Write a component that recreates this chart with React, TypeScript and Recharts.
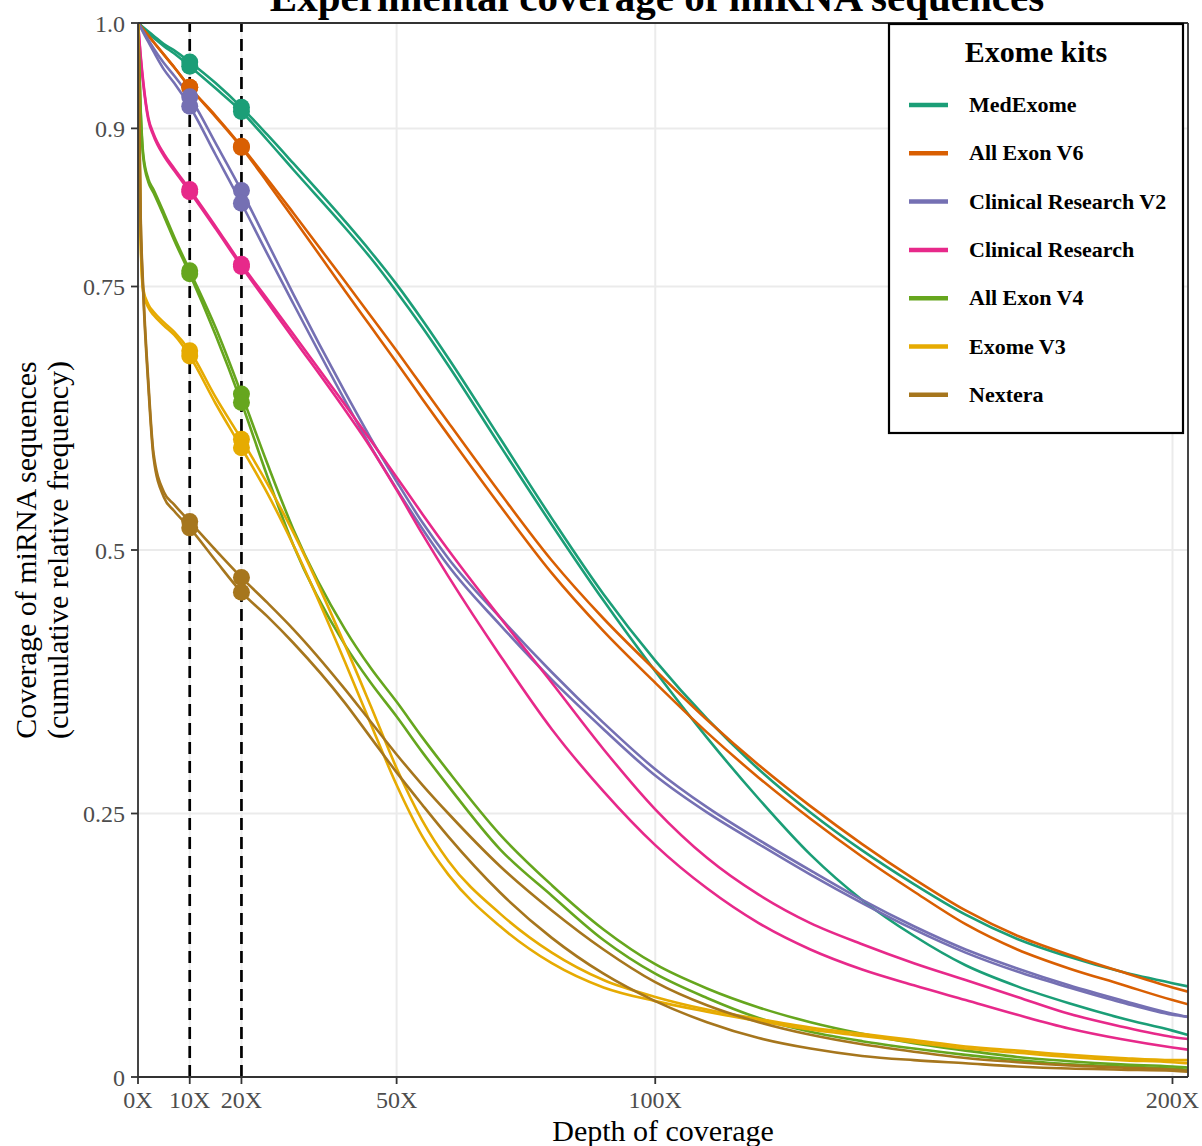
import React from 'react';
import { LineChart, Line, XAxis, YAxis, CartesianGrid, ReferenceLine } from 'recharts';

const SERIF = '"Liberation Serif", "DejaVu Serif", serif';

const depth = [0, 0.5, 1, 2, 3, 5, 7, 10, 15, 20, 25, 30, 40, 45, 50, 55, 60, 70, 80, 90, 100, 110, 120, 130, 140, 150, 160, 170, 180, 190, 200, 203];

const kitNames = ['MedExome', 'All Exon V6', 'Clinical Research V2', 'Clinical Research', 'All Exon V4', 'Exome V3', 'Nextera'];
const kitColors = ['#1B9E77', '#D95F02', '#7570B3', '#E7298A', '#66A61E', '#E6AB02', '#A6761D'];

const xTicks = [0, 10, 20, 50, 100, 200];
const yTicks = [0, 0.25, 0.5, 0.75, 0.9, 1.0];
const yTickLabels = ['0', '0.25', '0.5', '0.75', '0.9', '1.0'];
const markedDepths = [10, 20];

const medExomeA = [1.0, 0.998, 0.996, 0.992, 0.988, 0.980, 0.974, 0.963, 0.943, 0.920, 0.894, 0.867, 0.812, 0.783, 0.752, 0.718, 0.682, 0.606, 0.530, 0.458, 0.395, 0.340, 0.292, 0.251, 0.215, 0.183, 0.154, 0.131, 0.114, 0.100, 0.089, 0.086];
const medExomeB = [1.0, 0.998, 0.995, 0.990, 0.986, 0.978, 0.971, 0.959, 0.938, 0.916, 0.889, 0.861, 0.806, 0.777, 0.745, 0.711, 0.675, 0.599, 0.524, 0.452, 0.385, 0.322, 0.264, 0.211, 0.168, 0.134, 0.106, 0.086, 0.070, 0.056, 0.044, 0.040];
const allExonV6A = [1.0, 0.997, 0.994, 0.988, 0.982, 0.970, 0.958, 0.939, 0.912, 0.883, 0.852, 0.820, 0.755, 0.722, 0.689, 0.655, 0.621, 0.554, 0.490, 0.435, 0.386, 0.339, 0.296, 0.257, 0.221, 0.188, 0.158, 0.134, 0.116, 0.100, 0.085, 0.081];
const allExonV6B = [1.0, 0.997, 0.994, 0.988, 0.982, 0.970, 0.958, 0.939, 0.911, 0.882, 0.849, 0.815, 0.746, 0.712, 0.678, 0.643, 0.609, 0.542, 0.478, 0.423, 0.374, 0.327, 0.284, 0.245, 0.209, 0.176, 0.145, 0.121, 0.103, 0.088, 0.073, 0.069];
const clinicalV2A = [1.0, 0.996, 0.992, 0.984, 0.976, 0.962, 0.950, 0.930, 0.886, 0.841, 0.792, 0.743, 0.650, 0.606, 0.565, 0.526, 0.492, 0.436, 0.384, 0.336, 0.292, 0.256, 0.225, 0.196, 0.168, 0.143, 0.121, 0.103, 0.087, 0.073, 0.060, 0.057];
const clinicalV2B = [1.0, 0.996, 0.991, 0.982, 0.973, 0.956, 0.943, 0.921, 0.875, 0.829, 0.781, 0.734, 0.642, 0.598, 0.558, 0.520, 0.485, 0.429, 0.377, 0.330, 0.286, 0.251, 0.221, 0.192, 0.165, 0.140, 0.118, 0.100, 0.085, 0.071, 0.059, 0.057];
const clinicalA = [1.0, 0.970, 0.945, 0.910, 0.895, 0.876, 0.862, 0.842, 0.807, 0.771, 0.738, 0.705, 0.638, 0.604, 0.569, 0.534, 0.500, 0.436, 0.374, 0.311, 0.254, 0.208, 0.173, 0.146, 0.126, 0.108, 0.092, 0.076, 0.060, 0.048, 0.038, 0.036];
const clinicalB = [1.0, 0.968, 0.943, 0.908, 0.893, 0.874, 0.860, 0.840, 0.805, 0.769, 0.735, 0.701, 0.633, 0.597, 0.557, 0.515, 0.475, 0.400, 0.330, 0.271, 0.220, 0.179, 0.146, 0.121, 0.102, 0.087, 0.073, 0.059, 0.046, 0.036, 0.028, 0.026];
const allExonV4A = [1.0, 0.920, 0.876, 0.852, 0.842, 0.820, 0.797, 0.765, 0.711, 0.648, 0.582, 0.520, 0.425, 0.388, 0.356, 0.322, 0.290, 0.230, 0.182, 0.140, 0.107, 0.084, 0.066, 0.052, 0.041, 0.032, 0.025, 0.019, 0.015, 0.012, 0.010, 0.009];
const allExonV4B = [1.0, 0.918, 0.873, 0.849, 0.839, 0.817, 0.794, 0.762, 0.704, 0.640, 0.570, 0.505, 0.410, 0.374, 0.342, 0.308, 0.276, 0.216, 0.172, 0.130, 0.098, 0.075, 0.056, 0.043, 0.034, 0.027, 0.021, 0.016, 0.012, 0.010, 0.008, 0.007];
const exomeV3A = [1.0, 0.800, 0.748, 0.733, 0.726, 0.716, 0.707, 0.689, 0.645, 0.605, 0.563, 0.517, 0.410, 0.352, 0.293, 0.243, 0.205, 0.155, 0.118, 0.092, 0.076, 0.064, 0.055, 0.047, 0.041, 0.035, 0.029, 0.025, 0.021, 0.018, 0.016, 0.016];
const exomeV3B = [1.0, 0.795, 0.745, 0.730, 0.723, 0.713, 0.704, 0.684, 0.639, 0.597, 0.554, 0.505, 0.394, 0.335, 0.277, 0.228, 0.192, 0.143, 0.108, 0.085, 0.072, 0.062, 0.053, 0.045, 0.039, 0.033, 0.027, 0.023, 0.019, 0.016, 0.014, 0.013];
const nexteraA = [1.0, 0.820, 0.750, 0.660, 0.592, 0.555, 0.543, 0.527, 0.500, 0.474, 0.450, 0.425, 0.368, 0.337, 0.306, 0.277, 0.250, 0.200, 0.158, 0.121, 0.090, 0.068, 0.052, 0.040, 0.031, 0.024, 0.018, 0.014, 0.011, 0.009, 0.007, 0.006];
const nexteraB = [1.0, 0.815, 0.745, 0.655, 0.588, 0.550, 0.537, 0.521, 0.490, 0.460, 0.437, 0.412, 0.355, 0.322, 0.289, 0.258, 0.228, 0.175, 0.132, 0.098, 0.072, 0.052, 0.037, 0.027, 0.020, 0.016, 0.013, 0.010, 0.008, 0.007, 0.006, 0.005];

const seriesList = [
  { key: 'medExomeA', kit: 0, values: medExomeA },
  { key: 'medExomeB', kit: 0, values: medExomeB },
  { key: 'allExonV6A', kit: 1, values: allExonV6A },
  { key: 'allExonV6B', kit: 1, values: allExonV6B },
  { key: 'clinicalV2A', kit: 2, values: clinicalV2A },
  { key: 'clinicalV2B', kit: 2, values: clinicalV2B },
  { key: 'clinicalA', kit: 3, values: clinicalA },
  { key: 'clinicalB', kit: 3, values: clinicalB },
  { key: 'allExonV4A', kit: 4, values: allExonV4A },
  { key: 'allExonV4B', kit: 4, values: allExonV4B },
  { key: 'exomeV3A', kit: 5, values: exomeV3A },
  { key: 'exomeV3B', kit: 5, values: exomeV3B },
  { key: 'nexteraA', kit: 6, values: nexteraA },
  { key: 'nexteraB', kit: 6, values: nexteraB },
];

const data = depth.map((d, i) => {
  const row: Record<string, number> = { depth: d };
  seriesList.forEach((s) => {
    row[s.key] = s.values[i];
  });
  return row;
});

const makeDot = (color: string, skey: string) => (props: any) => {
  const { cx, cy, payload, index } = props;
  if (payload && markedDepths.includes(payload.depth)) {
    return <circle key={`${skey}-dot-${index}`} cx={cx} cy={cy} r={8.5} fill={color} stroke="none" />;
  }
  return <g key={`${skey}-dot-${index}`} />;
};

export default function App() {
  const border = '#333333';
  return (
    <div style={{ position: 'absolute', left: 0, top: 0, width: 1202, height: 1146, background: '#ffffff', overflow: 'hidden' }}>
      <LineChart width={1202} height={1146} data={data} margin={{ top: 23, right: 14, bottom: 0, left: 0 }}>
        <CartesianGrid stroke="#ebebeb" strokeWidth={2} />
        <XAxis
          dataKey="depth"
          type="number"
          domain={[0, 203]}
          ticks={xTicks}
          tickFormatter={(v: number) => `${v}X`}
          height={69}
          tickSize={7}
          tickMargin={7}
          stroke={border}
          axisLine={{ stroke: border, strokeWidth: 1.8 }}
          tickLine={{ stroke: border, strokeWidth: 1.8 }}
          tick={{ fill: '#4d4d4d', fontSize: 24, fontFamily: SERIF }}
          interval={0}
          allowDataOverflow
        />
        <YAxis
          type="number"
          domain={[0, 1]}
          ticks={yTicks}
          tickFormatter={(v: number) => yTickLabels[yTicks.indexOf(v)] ?? String(v)}
          width={138}
          tickSize={7}
          tickMargin={6}
          stroke={border}
          axisLine={{ stroke: border, strokeWidth: 1.8 }}
          tickLine={{ stroke: border, strokeWidth: 1.8 }}
          tick={{ fill: '#4d4d4d', fontSize: 24, fontFamily: SERIF }}
          interval={0}
          allowDataOverflow
        />
        {seriesList.map((s) => (
          <Line
            key={s.key}
            dataKey={s.key}
            type="monotone"
            stroke={kitColors[s.kit]}
            strokeWidth={2.6}
            dot={makeDot(kitColors[s.kit], s.key)}
            activeDot={false}
            isAnimationActive={false}
          />
        ))}
        {markedDepths.map((d) => (
          <ReferenceLine key={`ref-${d}`} x={d} stroke="#000000" strokeWidth={2.7} strokeDasharray="12 7" />
        ))}
        <ReferenceLine y={1} stroke={border} strokeWidth={1.8} />
        <ReferenceLine x={203} stroke={border} strokeWidth={1.8} />
      </LineChart>
      <svg width={1202} height={1146} style={{ position: 'absolute', left: 0, top: 0, pointerEvents: 'none' }} fontFamily={SERIF}>
        <text x={657} y={11} textAnchor="middle" fontSize={41} fontWeight="bold" fill="#000">
          Experimental coverage of miRNA sequences
        </text>
        <text x={663} y={1141} textAnchor="middle" fontSize={30} fill="#000">
          Depth of coverage
        </text>
        <text transform="translate(36,550) rotate(-90)" textAnchor="middle" fontSize={30} fill="#000">
          Coverage of miRNA sequences
        </text>
        <text transform="translate(68,550) rotate(-90)" textAnchor="middle" fontSize={30} fill="#000">
          (cumulative relative frequency)
        </text>
        <rect x={889} y={24} width={294} height={409} fill="#ffffff" stroke="#000000" strokeWidth={2.2} />
        <text x={1036} y={62} textAnchor="middle" fontSize={30} fontWeight="bold" fill="#000">
          Exome kits
        </text>
        {kitNames.map((name, i) => (
          <g key={name}>
            <line x1={909} x2={948} y1={105 + i * 48.3} y2={105 + i * 48.3} stroke={kitColors[i]} strokeWidth={4.5} />
            <text x={969} y={112 + i * 48.3} fontSize={22} fontWeight="bold" fill="#000">
              {name}
            </text>
          </g>
        ))}
      </svg>
    </div>
  );
}
